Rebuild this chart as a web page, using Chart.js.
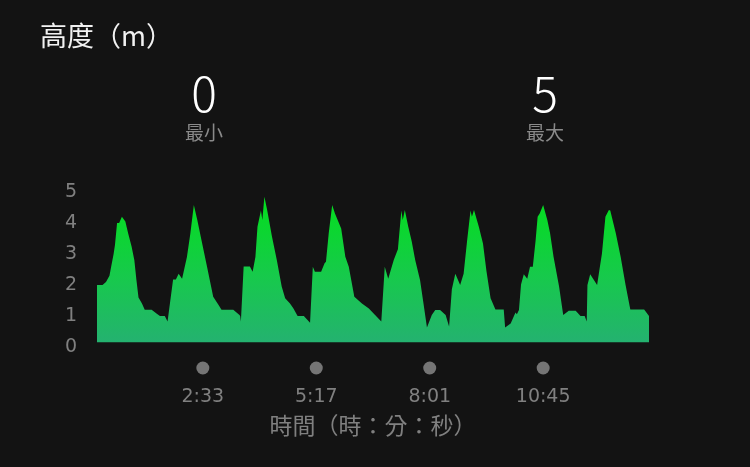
<!DOCTYPE html>
<html lang="zh-Hant">
<head>
<meta charset="utf-8">
<title>高度</title>
<script src="https://cdn.jsdelivr.net/npm/chart.js@4"></script>
<style>
    html, body { margin: 0; padding: 0; background: #131313; }
    #wrap { position: relative; width: 750px; height: 467px; overflow: hidden; }
    #altitudeChart { position: absolute; left: 0; top: 0; }
    .label { position: absolute; font-family: "Noto Sans CJK TC", "Noto Sans", sans-serif; white-space: nowrap; }
    #title { left: 40px; top: 17px; font-size: 27px; line-height: 36px; color: #f2f2f2; }
    .big { width: 120px; text-align: center; font-size: 48px; line-height: 50px; font-weight: 300; color: #ffffff; top: 66px; }
    .small { width: 120px; text-align: center; font-size: 19px; line-height: 22px; color: #8a8a8a; top: 121px; }
</style>
</head>
<body>
<div id="wrap">
    <canvas id="altitudeChart" width="750" height="467"></canvas>
    <div id="title" class="label">高度（m）</div>
    <div id="minValue" class="label big" style="left:144px;"></div>
    <div id="minLabel" class="label small" style="left:144px;">最小</div>
    <div id="maxValue" class="label big" style="left:485px;"></div>
    <div id="maxLabel" class="label small" style="left:485px;">最大</div>
</div>
<script>
// --- 資料 (秒, 公尺) ---
const TIME_SECONDS = [
    0, 8, 13, 18, 21, 24, 26, 29, 32, 36, 41, 45, 50, 54, 57, 60, 65, 69, 79, 86,
    91, 98, 102, 110, 114, 118, 123, 130, 135, 140, 145, 151, 159, 168, 176, 180, 197, 206, 207, 208,
    212, 221, 225, 229, 232, 237, 239, 242, 246, 253, 260, 267, 272, 279, 284, 290, 299, 308, 312, 315,
    324, 329, 331, 335, 340, 344, 353, 359, 364, 372, 383, 393, 402, 411, 416, 421, 429, 435, 440, 442,
    445, 450, 455, 460, 467, 472, 477, 484, 489, 496, 504, 509, 513, 518, 525, 530, 535, 540, 542, 545,
    552, 558, 563, 569, 576, 588, 590, 598, 605, 607, 610, 613, 617, 622, 626, 630, 634, 637, 640, 645,
    651, 655, 660, 668, 674, 682, 692, 699, 705, 708, 709, 713, 723, 727, 730, 735, 740, 742, 750, 757,
    764, 771, 791, 798
];
const ALTITUDE = [
    2.0, 2.0, 2.1, 2.3, 2.65, 3.0, 3.3, 4.0, 4.0, 4.2, 4.05, 3.67, 3.24, 2.8, 2.16, 1.6, 1.4, 1.2, 1.2, 1.08,
    1.0, 1.0, 0.82, 2.18, 2.18, 2.36, 2.2, 2.9, 3.67, 4.58, 4.1, 3.45, 2.6, 1.62, 1.35, 1.2, 1.2, 1.03, 1.0, 0.82,
    2.6, 2.6, 2.43, 2.9, 3.88, 4.4, 4.1, 4.85, 4.42, 3.56, 2.8, 1.95, 1.57, 1.4, 1.24, 1.0, 1.0, 0.78, 2.59, 2.43,
    2.43, 2.7, 2.75, 3.67, 4.58, 4.31, 3.82, 2.91, 2.59, 1.62, 1.4, 1.24, 1.03, 0.82, 2.59, 2.2, 2.81, 3.15, 4.4, 4.1,
    4.42, 3.88, 3.4, 2.81, 2.16, 1.4, 0.63, 1.03, 1.19, 1.19, 1.03, 0.66, 1.86, 2.36, 2.0, 2.36, 3.42, 4.4, 4.2, 4.42,
    3.88, 3.34, 2.45, 1.57, 1.21, 1.21, 0.63, 0.76, 1.11, 1.06, 1.19, 2.02, 2.35, 2.2, 2.59, 2.59, 3.42, 4.2, 4.31, 4.58,
    4.1, 3.67, 2.91, 1.95, 1.03, 1.17, 1.17, 1.0, 1.0, 0.82, 2.0, 2.35, 2.0, 2.59, 3.02, 4.2, 4.42, 4.4, 3.67, 2.91,
    2.02, 1.21, 1.21, 1.0
];
const X_TICK_SECONDS = [153, 317, 481, 645];
const X_TICK_LABELS = ['2:33', '5:17', '8:01', '10:45'];
const Y_TICKS = [0, 1, 2, 3, 4, 5];
const MIN_VALUE = '0';
const MAX_VALUE = '5';
const X_TITLE = '時間（時：分：秒）';

const COLORS = {
    BG: '#131313',
    TICK: '#808080',
    DOT: '#757575',
    TOP: '#02e01a',
    MID: '#17c94c',
    BOTTOM: '#25b072'
};

document.getElementById('minValue').textContent = MIN_VALUE;
document.getElementById('maxValue').textContent = MAX_VALUE;

// x 軸刻度下方的灰色圓點
const tickDotsPlugin = {
    id: 'tickDots',
    afterDraw(chart) {
        const xScale = chart.scales.x;
        const c = chart.ctx;
        c.save();
        c.fillStyle = COLORS.DOT;
        X_TICK_SECONDS.forEach(v => {
            c.beginPath();
            c.arc(xScale.getPixelForValue(v), chart.chartArea.bottom + 21, 6.5, 0, Math.PI * 2);
            c.fill();
        });
        c.restore();
    }
};

function areaGradient(context) {
    const chart = context.chart;
    const area = chart.chartArea;
    if (!area) return COLORS.MID;
    const g = chart.ctx.createLinearGradient(0, area.top, 0, area.bottom);
    g.addColorStop(0, COLORS.TOP);
    g.addColorStop(0.55, COLORS.MID);
    g.addColorStop(1, COLORS.BOTTOM);
    return g;
}

const points = TIME_SECONDS.map((t, i) => ({ x: t, y: ALTITUDE[i] }));

new Chart(document.getElementById('altitudeChart').getContext('2d'), {
    type: 'line',
    data: {
        datasets: [{
            data: points,
            borderWidth: 0,
            pointRadius: 0,
            tension: 0,
            fill: { value: 0.15 },
            backgroundColor: areaGradient
        }]
    },
    options: {
        responsive: false,
        animation: false,
        layout: { padding: { top: 192, right: 101, bottom: 0, left: 0 } },
        plugins: { legend: { display: false }, tooltip: { enabled: false } },
        scales: {
            x: {
                type: 'linear',
                min: 0,
                max: 798,
                grid: { display: false, drawTicks: false },
                border: { display: false },
                afterBuildTicks: axis => { axis.ticks = X_TICK_SECONDS.map(v => ({ value: v })); },
                afterFit: axis => { axis.height = 120; },
                ticks: {
                    autoSkip: false,
                    maxRotation: 0,
                    padding: 39,
                    color: COLORS.TICK,
                    font: { family: '"DejaVu Sans", sans-serif', size: 19 },
                    callback: value => X_TICK_LABELS[X_TICK_SECONDS.indexOf(value)]
                },
                title: {
                    display: true,
                    text: X_TITLE,
                    color: COLORS.TICK,
                    padding: { top: 0, bottom: 28 },
                    font: { family: '"Noto Sans CJK TC", sans-serif', size: 23 }
                }
            },
            y: {
                min: 0,
                max: 5,
                grid: { display: false, drawTicks: false },
                border: { display: false },
                afterBuildTicks: axis => { axis.ticks = Y_TICKS.map(v => ({ value: v })); },
                afterFit: axis => { axis.width = 97; },
                ticks: {
                    autoSkip: false,
                    padding: 20,
                    color: COLORS.TICK,
                    font: { family: '"DejaVu Sans", sans-serif', size: 19 }
                }
            }
        }
    },
    plugins: [tickDotsPlugin]
});
</script>
</body>
</html>
